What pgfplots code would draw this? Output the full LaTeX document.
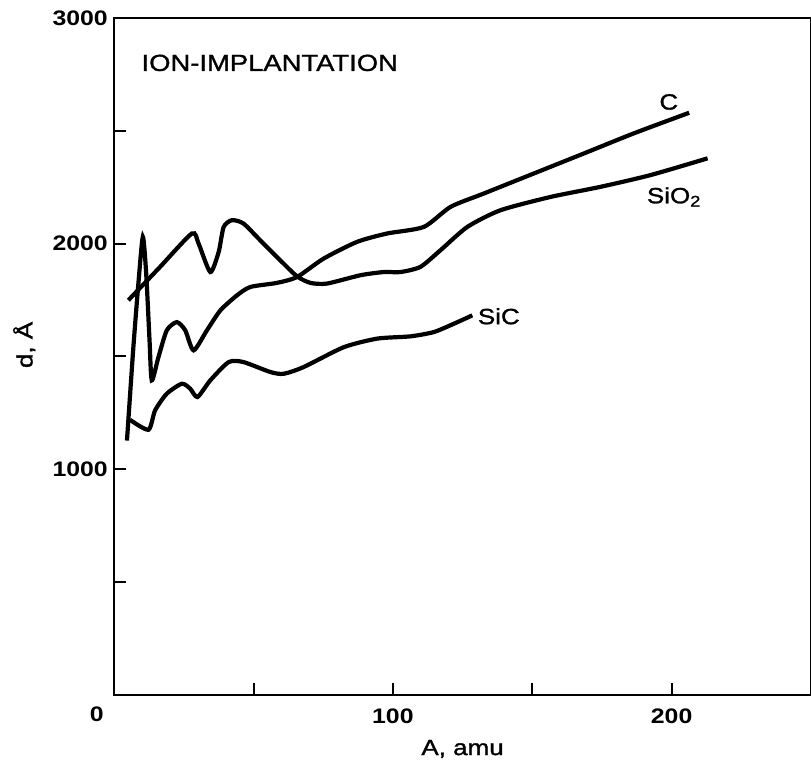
\documentclass[border=0pt]{standalone}
\usepackage{pgfplots}
\pgfplotsset{compat=1.18}
\usepackage{fontspec}
\setmainfont{Liberation Sans}[FakeStretch=1.18]
\newfontfamily\medfont{Liberation Sans}[FakeStretch=1.18, FakeBold=1.3]
\begin{document}
\begin{tikzpicture}
\begin{axis}[
  name=ax,
  scale only axis,
  width=348pt, height=338pt,
  xmin=0, xmax=250, ymin=0, ymax=3000,
  axis line style={line width=1.3pt},
  xtick={50,100,150,200},
  xticklabels={,100,,200},
  ytick={500,1000,1500,2000,2500,3000},
  yticklabels={,1000,,2000,,3000},
  xtick pos=bottom, ytick pos=left,
  tick align=inside,
  major tick length=6pt,
  tick style={line width=1pt, black},
  /pgf/number format/assume math mode=true,
  /pgf/number format/1000 sep={},
  xticklabel style={font=\fontsize{10.5}{12}\selectfont\bfseries, anchor=north, inner sep=0pt},
  yticklabel style={font=\fontsize{10.5}{12}\selectfont\bfseries, anchor=east, inner sep=0pt},
  xticklabel shift=7pt,
  yticklabel shift=3pt,
  xlabel={A, amu},
  ylabel={d, Å},
  xlabel style={font=\medfont\fontsize{11}{13}\selectfont, at={(axis description cs:0.5,0)}, anchor=center, yshift=-27pt},
  ylabel style={font=\medfont\fontsize{11}{13}\selectfont, at={(axis description cs:-0.129,0.517)}, anchor=center},
  clip=false,
]
% C
\addplot[black, line width=2.1pt, smooth, tension=0.4] coordinates {
(4.6,1127) (6.9,1541) (8.7,1823) (10.3,2030) (11.5,1867) (12.7,1571) (13.5,1394)
(15.9,1497) (18.9,1616) (22.5,1652) (25.5,1616) (28.5,1527) (33.3,1616) (38.1,1704)
(44.1,1771) (48.9,1808) (58.4,1826) (65.6,1852) (75.2,1934) (87.2,2008) (98.0,2045)
(111.1,2074) (120.7,2163) (132.6,2222) (150.6,2311) (168.6,2400) (186.5,2489) (206.3,2580)
};
% SiO2
\addplot[black, line width=2.1pt, smooth, tension=0.4] coordinates {
(5.1,1749) (16.5,1897) (27.9,2045) (30.3,2000) (34.5,1874) (37.5,1963) (39.3,2074)
(42.3,2104) (46.4,2089) (52.4,2015) (59.6,1926) (65.6,1855) (70.4,1826) (76.4,1823)
(88.4,1860) (96.7,1874) (102.7,1874) (109.9,1897) (117.1,1971) (126.7,2074) (138.6,2148)
(156.6,2207) (174.6,2252) (192.5,2304) (212.9,2378)
};
% SiC
\addplot[black, line width=2.1pt, smooth, tension=0.4] coordinates {
(5.7,1219) (12.3,1175) (14.7,1261) (18.9,1335) (24.3,1379) (27.3,1357) (29.9,1320)
(34.5,1394) (41.1,1475) (46.4,1475) (56.0,1431) (60.8,1423) (68.0,1453) (82.4,1541)
(94.4,1579) (106.3,1589) (114.7,1608) (121.9,1645) (128.5,1682)
};
\node[anchor=west, inner sep=0pt, font=\medfont\fontsize{11.6}{13}\selectfont] at (axis cs:9.7,2801) {ION-IMPLANTATION};
\node[font=\medfont\fontsize{11}{13}\selectfont] at (axis cs:199,2628) {C};
\node[font=\medfont\fontsize{11}{13}\selectfont] at (axis cs:200.9,2207) {SiO\textsubscript{2}};
\node[font=\medfont\fontsize{11}{13}\selectfont] at (axis cs:138,1678) {SiC};
\node[font=\fontsize{10.5}{12}\selectfont\bfseries, xshift=-8.7pt, yshift=-9.7pt] at (rel axis cs:0,0) {0};
\end{axis}
\pgfresetboundingbox
\path[use as bounding box] ([xshift=-57pt,yshift=-35pt]ax.south west) rectangle ([yshift=9pt]ax.north east);
\end{tikzpicture}
\end{document}
